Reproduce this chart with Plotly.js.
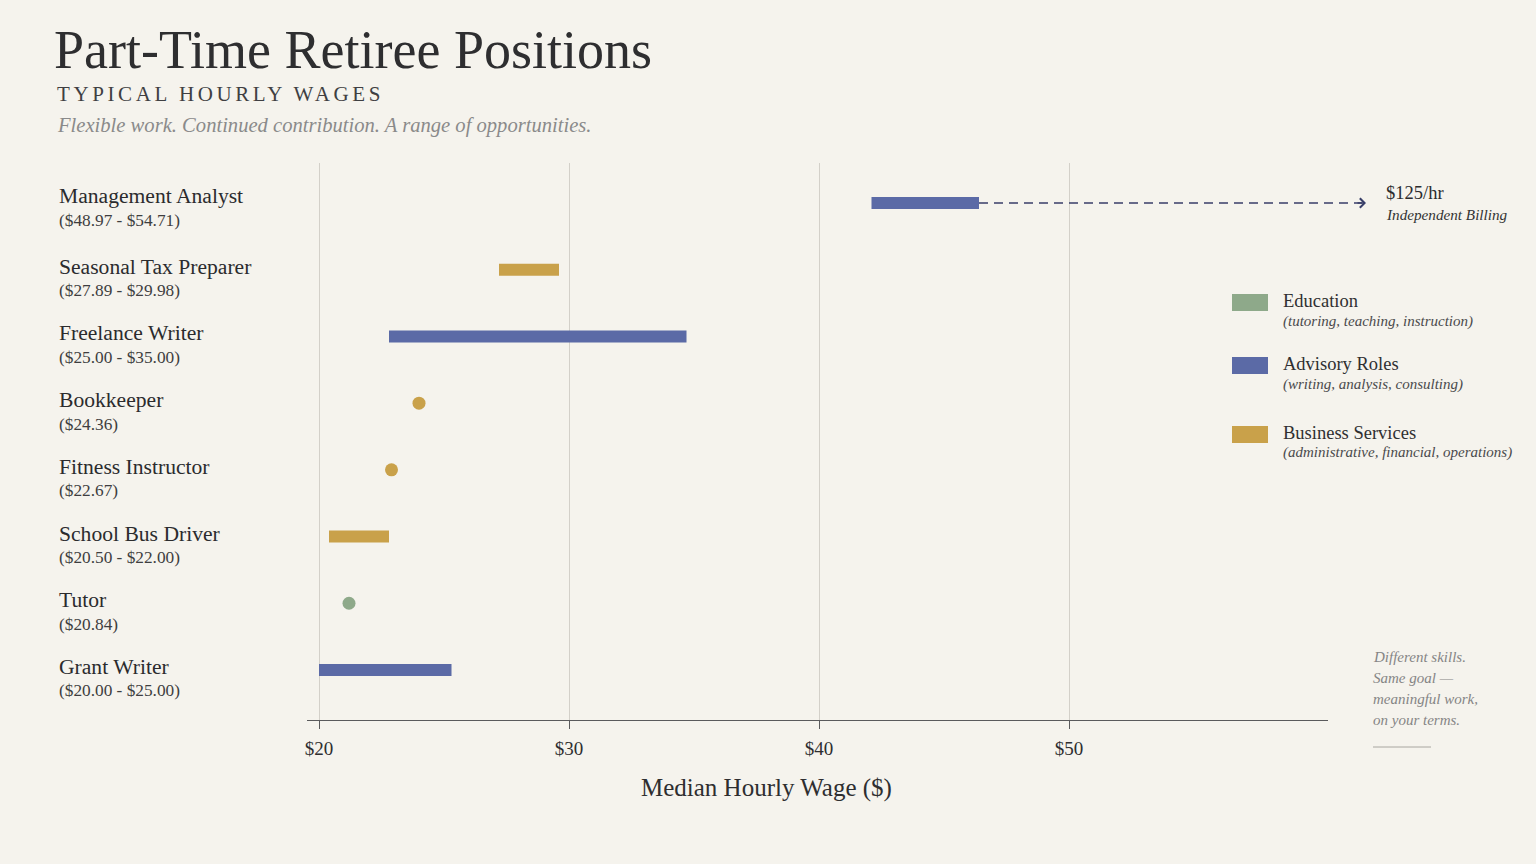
<!DOCTYPE html>
<html>
<head>
<meta charset="utf-8">
<script src="https://cdn.plot.ly/plotly-3.0.1.min.js"></script>
<style>
  html, body { margin: 0; padding: 0; background: #F5F3ED; }
  #chart { width: 1536px; height: 864px; }
</style>
</head>
<body>
<div id="chart"></div>
<script>
// rows, top to bottom
const jobs = ["Management Analyst", "Seasonal Tax Preparer", "Freelance Writer", "Bookkeeper",
  "Fitness Instructor", "School Bus Driver", "Tutor", "Grant Writer"];
const wageLabels = ["($48.97 - $54.71)", "($27.89 - $29.98)", "($25.00 - $35.00)", "($24.36)",
  "($22.67)", "($20.50 - $22.00)", "($20.84)", "($20.00 - $25.00)"];
const jobGroup = ["Advisory Roles", "Business Services", "Advisory Roles", "Business Services",
  "Business Services", "Business Services", "Education", "Advisory Roles"];
// wages as they sit on the scale (a dot when low == high)
const lowWage = [42.1, 27.2, 22.8, 24.0, 22.9, 20.4, 21.2, 20.0];
const highWage = [46.4, 29.6, 34.7, 24.0, 22.9, 22.8, 21.2, 25.3];

const groups = ["Education", "Advisory Roles", "Business Services"];
const groupNotes = ["(tutoring, teaching, instruction)", "(writing, analysis, consulting)",
  "(administrative, financial, operations)"];
const groupColors = ["#8EA98A", "#5B6AA6", "#C9A14A"];

const tickValues = [20, 30, 40, 50];
const tickLabels = ["$20", "$30", "$40", "$50"];

const outlierRate = "$125/hr";
const outlierNote = "Independent Billing";
const noteLines = ["Different skills.", "Same goal \u2014", "meaningful work,", "on your terms."];

const SERIF = "Liberation Serif, Times New Roman, serif";
const xRange = [19.52, 60.36];
const yRange = [7.75, -0.6];
const CAPS_SPACING = 3.6;

// page pixel -> paper helpers (plot area is 307..1328 x 163..720)
function px(x) { return (x - 307) / 1021; }
function py(y) { return (720 - y) / 557; }
function xPaper(v) { return (v - xRange[0]) / (xRange[1] - xRange[0]); }
function yPaper(k) { return (k - yRange[0]) / (yRange[1] - yRange[0]); }

// one bar trace and one dot trace per group
const data = [];
groups.forEach((g, gi) => {
  const barY = [], barBase = [], barLen = [], dotY = [], dotX = [];
  jobs.forEach((j, i) => {
    if (jobGroup[i] !== g) return;
    if (highWage[i] > lowWage[i]) {
      barY.push(j); barBase.push(lowWage[i]); barLen.push(highWage[i] - lowWage[i]);
    } else {
      dotY.push(j); dotX.push(lowWage[i]);
    }
  });
  if (barY.length) {
    data.push({
      type: "bar", orientation: "h", y: barY, x: barLen, base: barBase, width: 0.18,
      marker: { color: groupColors[gi], line: { width: 0 } },
      hoverinfo: "skip", showlegend: false
    });
  }
  if (dotY.length) {
    data.push({
      type: "scatter", mode: "markers", y: dotY, x: dotX,
      marker: { color: groupColors[gi], size: 13 },
      hoverinfo: "skip", showlegend: false, cliponaxis: false
    });
  }
});

const annotations = [];
const shapes = [];

function addText(text, x, y, size, color, opts) {
  annotations.push(Object.assign({
    text: text, xref: "paper", yref: "paper", x: x, y: y,
    xanchor: "left", yanchor: "middle", showarrow: false,
    font: { family: SERIF, size: size, color: color }
  }, opts || {}));
}

// header
addText("Part-Time Retiree Positions", px(52), py(50), 54, "#2E2E30");
addText("TYPICAL HOURLY WAGES", px(55), py(94), 21, "#3F3F42",
  { xshift: CAPS_SPACING * 20 / 2 });
addText("Flexible work. Continued contribution. A range of opportunities.", px(55), py(126), 20.6, "#8A8A8A",
  { font: { family: SERIF, size: 20.6, color: "#8A8A8A", style: "italic" } });

// row labels
jobs.forEach((j, i) => {
  annotations.push({
    text: j, xref: "paper", yref: "y", x: px(57), y: i, yshift: i === 0 ? 7 : 3,
    xanchor: "left", yanchor: "middle", showarrow: false,
    font: { family: SERIF, size: 21.6, color: "#2B2B2D" }
  });
  annotations.push({
    text: wageLabels[i], xref: "paper", yref: "y", x: px(57), y: i, yshift: i === 0 ? -17 : -21,
    xanchor: "left", yanchor: "middle", showarrow: false,
    font: { family: SERIF, size: 17.3, color: "#3E3E40" }
  });
});

// outlier: dashed lead-out to the $125/hr note
shapes.push({
  type: "line", xref: "paper", yref: "paper",
  x0: xPaper(highWage[0]), x1: px(1362), y0: yPaper(0), y1: yPaper(0),
  line: { color: "#383E68", width: 1.5, dash: "9px,6px" }
});
annotations.push({
  text: "", xref: "paper", yref: "paper", x: px(1366), y: yPaper(0),
  showarrow: true, arrowhead: 4, arrowsize: 1.4, arrowwidth: 1.3, arrowcolor: "#383E68",
  ax: -10, ay: 0
});
addText(outlierRate, px(1384), py(193), 18.5, "#2B2B2D");
addText(outlierNote, px(1384), py(214), 15.2, "#333",
  { font: { family: SERIF, size: 15.2, color: "#333", style: "italic" } });

// legend
const legendTop = [294, 357, 426];
groups.forEach((g, gi) => {
  const t = legendTop[gi];
  shapes.push({
    type: "rect", xref: "paper", yref: "paper",
    x0: px(1232), x1: px(1268), y0: py(t), y1: py(t + 17),
    fillcolor: groupColors[gi], line: { width: 0 }
  });
  addText(g, px(1281), py(t + 7), 18.5, "#2F2F31");
  addText(groupNotes[gi], px(1281), py(t + 27), 15, "#4A4A4C",
    { font: { family: SERIF, size: 15, color: "#4A4A4C", style: "italic" } });
});

// side note
noteLines.forEach((line, k) => {
  addText(line, px(1371), py(657 + 21 * k), 15, "#858585",
    { font: { family: SERIF, size: 15, color: "#858585", style: "italic" } });
});
shapes.push({
  type: "line", xref: "paper", yref: "paper",
  x0: px(1373), x1: px(1431), y0: py(747), y1: py(747),
  line: { color: "#A8A6A0", width: 1 }
});

// axis title
annotations.push({
  text: "Median Hourly Wage ($)", xref: "paper", yref: "paper",
  x: px(766), y: py(788), xanchor: "center", yanchor: "middle", showarrow: false,
  font: { family: SERIF, size: 25, color: "#2E2E30" }
});

const layout = {
  width: 1536, height: 864,
  paper_bgcolor: "#F5F3ED", plot_bgcolor: "#F5F3ED",
  margin: { l: 307, r: 208, t: 163, b: 144 },
  barmode: "overlay",
  showlegend: false,
  font: { family: SERIF, color: "#333" },
  xaxis: {
    range: xRange, tickvals: tickValues, ticktext: tickLabels,
    showgrid: true, gridcolor: "#D3D0C9", gridwidth: 1,
    showline: true, linecolor: "#5A5A5C", linewidth: 1,
    ticks: "outside", ticklen: 8, tickcolor: "#5A5A5C", ticklabelstandoff: 3,
    tickfont: { family: SERIF, size: 19, color: "#2E2E30" },
    zeroline: false, fixedrange: true
  },
  yaxis: {
    type: "category", categoryarray: jobs, categoryorder: "array", range: yRange,
    showticklabels: false, showgrid: false, zeroline: false, showline: false,
    fixedrange: true
  },
  annotations: annotations,
  shapes: shapes
};

Plotly.newPlot("chart", data, layout, { displayModeBar: false, staticPlot: true }).then(() => {
  // spaced small caps subtitle
  document.querySelectorAll("#chart .annotation-text").forEach(el => {
    if (el.textContent === "TYPICAL HOURLY WAGES") el.style.letterSpacing = CAPS_SPACING + "px";
  });
});
</script>
</body>
</html>
